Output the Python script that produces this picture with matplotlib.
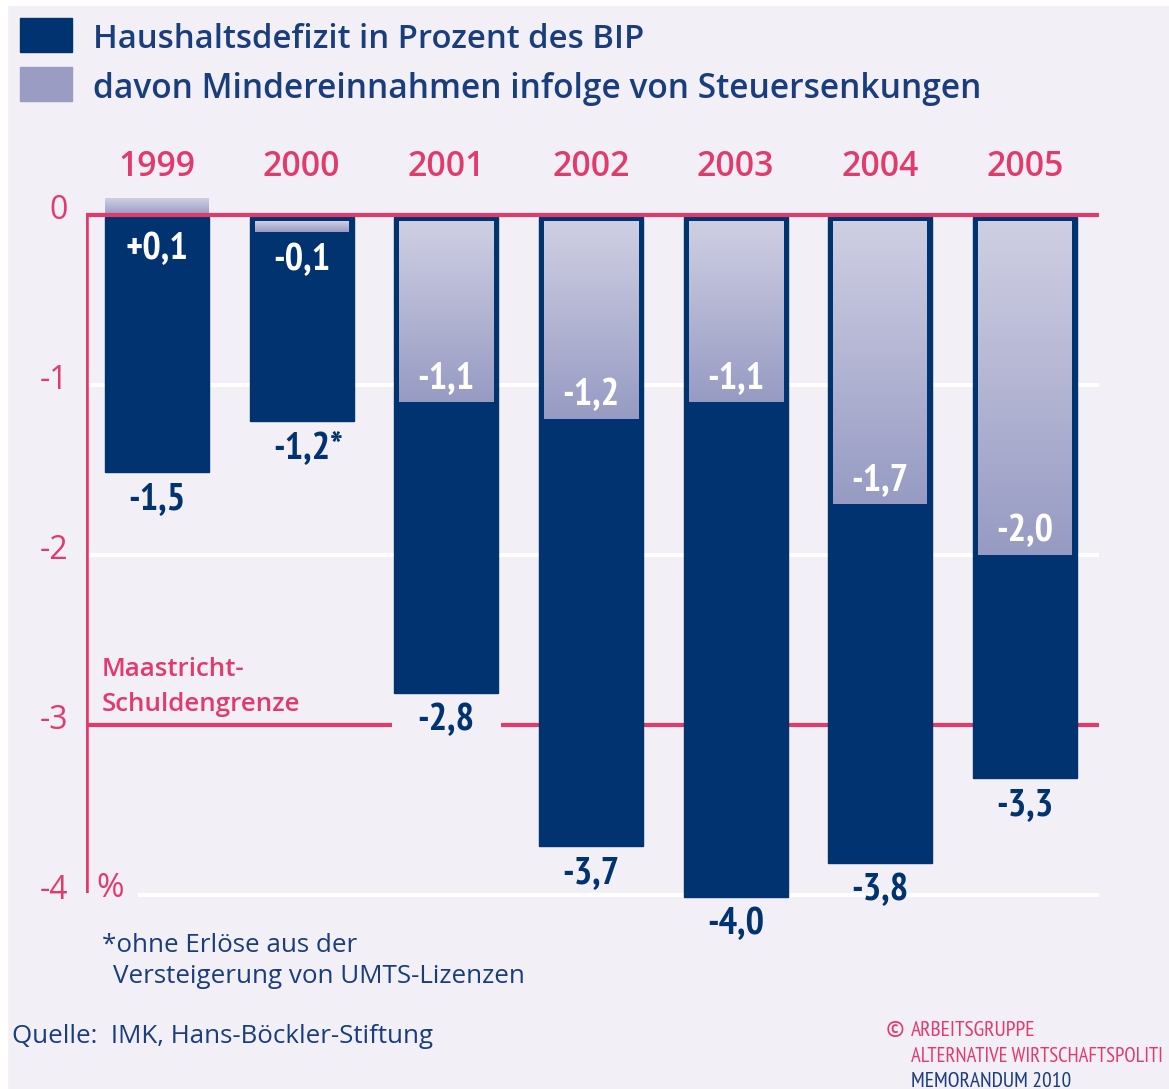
import numpy as np
import matplotlib
matplotlib.use("Agg")
import matplotlib.pyplot as plt
from matplotlib.patches import Rectangle
from matplotlib.colors import LinearSegmentedColormap

# ---- data ----
years = ["1999", "2000", "2001", "2002", "2003", "2004", "2005"]
deficit = [-1.5, -1.2, -2.8, -3.7, -4.0, -3.8, -3.3]
deficit_labels = ["-1,5", "-1,2*", "-2,8", "-3,7", "-4,0", "-3,8", "-3,3"]
tax_cut = [0.1, -0.1, -1.1, -1.2, -1.1, -1.7, -2.0]
tax_cut_labels = ["+0,1", "-0,1", "-1,1", "-1,2", "-1,1", "-1,7", "-2,0"]
yticks = [0, -1, -2, -3, -4]
ytick_labels = ["0", "-1", "-2", "-3", "-4"]
maastricht = -3

legend_labels = ["Haushaltsdefizit in Prozent des BIP",
                 "davon Mindereinnahmen infolge von Steuersenkungen"]

BG = "#f2eff6"
NAVY = "#00336f"
NAVY_TXT = "#1a3d7c"
PINK = "#e23a6a"
LIGHT_TOP = "#cfcfe3"
LIGHT_BOT = "#979bc3"
LIGHT_SW = "#9a9cc4"

MAIN = ["Open Sans", "DejaVu Sans"]
NARROW = ["PT Sans Narrow", "Open Sans Condensed", "IBM Plex Sans Condensed", "DejaVu Sans"]

W, H = 1169, 1089
fig = plt.figure(figsize=(W / 100, H / 100), dpi=100, facecolor=BG)
renderer = fig.canvas.get_renderer()


def fx(px):
    return px / W


def fy(py):
    return 1 - py / H


def fit(t, target_px):
    w = t.get_window_extent(renderer).width
    if w > 0:
        t.set_fontsize(t.get_fontsize() * target_px / w)
    return t


# white margins top/left
fig.patches.append(Rectangle((0, fy(5)), 1, 1, transform=fig.transFigure, color="white", zorder=0))
fig.patches.append(Rectangle((0, 0), fx(7), 1, transform=fig.transFigure, color="white", zorder=0))

# axes: x pixel 86..1099, y pixel 180..905
AX_L, AX_R, AX_T, AX_B = 86, 1099, 180, 905
ax = fig.add_axes([fx(AX_L), fy(AX_B), fx(AX_R - AX_L), (AX_B - AX_T) / H])
ax.set_facecolor("none")
px_per_unit = 170.0
Y0 = 215
step = 144.67
X0 = 157
ylim = (-(AX_B - Y0) / px_per_unit, (Y0 - AX_T) / px_per_unit)
xlim = (-(X0 - AX_L) / step, (AX_R - X0) / step)
for s in ax.spines.values():
    s.set_visible(False)
ax.set_xticks([])
ax.set_yticks([])

x = np.arange(len(years))
bw = 104 / step
inset_x = 5 / step
inset_y = 6 / px_per_unit
xmin, xmax = xlim

# white gridlines
for t in yticks[1:]:
    if t == maastricht:
        continue
    start = xmin if t != yticks[-1] else xmin + 52 / step
    ax.plot([start, xmax], [t, t], color="white", lw=3, zorder=1, solid_capstyle="butt")

# Maastricht line (broken around the 2001 label)
idx_gap = 2
ax.plot([xmin, x[idx_gap] - bw / 2 - 2 / step], [maastricht, maastricht], color=PINK, lw=3,
        zorder=2, solid_capstyle="butt")
ax.plot([x[idx_gap] + bw / 2 + 3 / step, xmax], [maastricht, maastricht], color=PINK, lw=3,
        zorder=2, solid_capstyle="butt")

# dark bars
ax.bar(x, deficit, width=bw, bottom=-2 / px_per_unit, color=NAVY, edgecolor=NAVY, lw=1, zorder=3)

# light bars (gradient)
cmap = LinearSegmentedColormap.from_list("lt", [LIGHT_TOP, LIGHT_BOT])
grad = np.linspace(0, 1, 256).reshape(-1, 1)
for xi, v in zip(x, tax_cut):
    if v > 0:
        x0, x1 = xi - bw / 2, xi + bw / 2
        top, bot = v, 0
    else:
        x0, x1 = xi - bw / 2 + inset_x, xi + bw / 2 - inset_x
        top, bot = -inset_y, v
    ax.imshow(grad, cmap=cmap, extent=(x0, x1, bot, top), aspect="auto", zorder=4,
              interpolation="bilinear", origin="upper")
ax.set_xlim(*xlim)
ax.set_ylim(*ylim)

# zero line and left axis line
ax.plot([xmin, xmax], [0, 0], color=PINK, lw=3, zorder=5, solid_capstyle="butt")
ax.plot([xmin, xmin], [0, -4 + 2 / px_per_unit], color=PINK, lw=4, zorder=5,
        solid_capstyle="butt")

PT = 0.72  # points per pixel at dpi 100
lab_font = dict(family=NARROW, weight="bold", size=28)

# labels (baseline positioned)
for xi, v, lab in zip(x, deficit, deficit_labels):
    ax.annotate(lab, (xi, v), xytext=(0 if "*" not in lab else 6 * PT, -39 * PT),
                textcoords="offset points", ha="center", va="baseline",
                color=NAVY, zorder=6, **lab_font)
for xi, v, lab in zip(x, tax_cut, tax_cut_labels):
    if v > 0:
        ax.annotate(lab, (xi, 0), xytext=(0, -44 * PT), textcoords="offset points", ha="center",
                    va="baseline", color="white", zorder=6, **lab_font)
    elif v > -0.5:
        ax.annotate(lab, (xi, v), xytext=(0, -38 * PT), textcoords="offset points", ha="center",
                    va="baseline", color="white", zorder=6, **lab_font)
    else:
        ax.annotate(lab, (xi, v), xytext=(0, 14 * PT), textcoords="offset points", ha="center",
                    va="baseline", color="white", zorder=6, **lab_font)

# year labels
for xi, yr in zip(x, years):
    t = ax.text(xi, (Y0 - 176) / px_per_unit, yr, ha="center", va="baseline", color=PINK,
                fontsize=24, fontweight="semibold", family=MAIN)
    fit(t, 77)

# y tick labels
for t, tl in zip(yticks, ytick_labels):
    fig.text(fx(68), fy(Y0 - px_per_unit * t + 4), tl, ha="right", va="baseline", color=PINK,
             fontsize=23, family=MAIN)

fig.text(fx(96), fy(897), "%", ha="left", va="baseline", color=PINK, fontsize=24, family=MAIN)
t = fig.text(fx(102), fy(676), "Maastricht-", ha="left", va="baseline", color=PINK,
             fontsize=18, fontweight="semibold", family=MAIN)
fit(t, 143)
fig.text(fx(102), fy(711), "Schuldengrenze", ha="left", va="baseline", color=PINK,
         fontsize=t.get_fontsize(), fontweight="semibold", family=MAIN)

# legend
fig.patches.append(Rectangle((fx(20), fy(52)), fx(52), (52 - 18) / H, transform=fig.transFigure,
                             color=NAVY, zorder=2))
fig.patches.append(Rectangle((fx(20), fy(101)), fx(52), (101 - 67) / H, transform=fig.transFigure,
                             color=LIGHT_SW, zorder=2))
leg_targets = [552, 892]
leg_base = [48, 98]
for lab, tw, yb in zip(legend_labels, leg_targets, leg_base):
    t = fig.text(fx(93), fy(yb), lab, ha="left", va="baseline", color=NAVY_TXT, fontsize=24,
                 fontweight="semibold", family=MAIN)
    fit(t, tw)

# footnotes
t1 = fig.text(fx(102), fy(952), "*ohne Erlöse aus der", ha="left", va="baseline",
              color=NAVY_TXT, fontsize=18, family=MAIN)
t2 = fig.text(fx(113), fy(983), "Versteigerung von UMTS-Lizenzen", ha="left", va="baseline",
              color=NAVY_TXT, fontsize=18, family=MAIN)
fit(t2, 412)
t1.set_fontsize(t2.get_fontsize())
t3 = fig.text(fx(12), fy(1043), "Quelle:  IMK, Hans-Böckler-Stiftung", ha="left", va="baseline",
              color=NAVY_TXT, fontsize=18, family=MAIN)
fit(t3, 421)

cred = dict(family=NARROW, fontsize=16, ha="left", va="baseline")
c1 = fig.text(fx(911), fy(1036), "ARBEITSGRUPPE", color=PINK, **cred)
fit(c1, 124)
c2 = fig.text(fx(911), fy(1062), "ALTERNATIVE WIRTSCHAFTSPOLITI", color=PINK, **cred)
c2.set_fontsize(c1.get_fontsize())
w2 = c2.get_window_extent(renderer).width
if w2 > 252:
    fit(c2, 252)
c3 = fig.text(fx(911), fy(1087), "MEMORANDUM 2010", color=NAVY_TXT, **cred)
c3.set_fontsize(c1.get_fontsize())
fig.text(fx(886), fy(1037), "©", color=PINK, family=NARROW, fontsize=c1.get_fontsize() * 1.25,
         ha="left", va="baseline")

fig.savefig("out.png", dpi=100, facecolor=BG)
